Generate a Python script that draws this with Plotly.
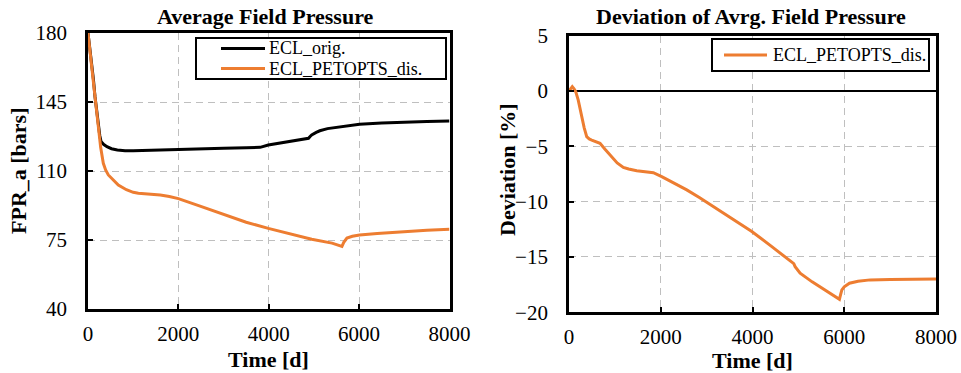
import plotly.graph_objects as go

# ---- data -------------------------------------------------------------
# Average field pressure, original ECLIPSE run [bars]
t_orig = [0, 40, 81, 120, 155, 190, 229, 260, 288, 350, 420, 520, 650, 820,
          1000, 1400, 2000, 2480, 3000, 3500, 3810, 3990, 4400, 4880, 4910,
          4950, 5050, 5130, 5300, 5580, 6010, 6500, 6900, 7500, 8000]
fpr_orig = [180, 172.5, 164.6, 156.5, 147.7, 140.0, 132.5, 128.0, 125.0,
            123.4, 122.3, 121.3, 120.7, 120.3, 120.3, 120.6, 121.0, 121.5,
            121.6, 121.8, 122.0, 123.2, 124.8, 126.6, 127.4, 128.3, 129.6,
            130.4, 131.5, 132.5, 133.7, 134.3, 134.7, 135.1, 135.4]

# Average field pressure, PETOPTS discretised run [bars]
t_dis = [0, 81, 155, 229, 280, 339, 390, 450, 550, 671, 850, 1000, 1114,
         1300, 1600, 1800, 2000, 2480, 3000, 3500, 3990, 4500, 4950, 5400,
         5620, 5660, 5730, 5850, 6010, 6400, 6910, 7500, 8000]
fpr_dis = [180, 164.6, 147.7, 132.5, 122.0, 113.9, 110.5, 108.0, 105.5,
           102.9, 100.5, 99.2, 98.7, 98.4, 97.8, 97.1, 96.0, 92.2, 88.0,
           84.0, 80.9, 78.1, 75.4, 73.4, 71.8, 73.8, 76.0, 76.9, 77.5, 78.3,
           79.2, 79.9, 80.4]

# Relative deviation of the PETOPTS run [%]
t_dev = [0, 40, 72, 110, 146, 200, 277, 330, 386, 440, 495, 580, 676, 785,
         900, 1050, 1185, 1300, 1476, 1700, 1839, 2021, 2300, 2567, 2850,
         3148, 3500, 3839, 3985, 4400, 4857, 4900, 4929, 5038, 5300, 5547,
         5750, 5895, 5920, 5948, 6000, 6114, 6300, 6565, 7000, 7500, 8000]
dev = [0, 0.25, 0.39, 0.2, -0.06, -0.8, -2.32, -3.3, -4.13, -4.33, -4.43,
       -4.58, -4.73, -5.27, -5.85, -6.5, -6.9, -7.05, -7.2, -7.3, -7.38,
       -7.74, -8.35, -8.94, -9.65, -10.45, -11.37, -12.26, -12.7, -14.0,
       -15.42, -15.6, -15.87, -16.47, -17.25, -17.91, -18.4, -18.82, -18.4,
       -17.98, -17.7, -17.37, -17.2, -17.07, -17.03, -17.01, -17.0]

x_ticks = [0, 2000, 4000, 6000, 8000]
fpr_ticks = [40, 75, 110, 145, 180]
dev_ticks = [-20, -15, -10, -5, 0, 5]

name_orig = "ECL_orig."
name_dis = "ECL_PETOPTS_dis."
title_left = "Average Field Pressure"
title_right = "Deviation of Avrg. Field Pressure"
xlabel = "Time [d]"
ylabel_left = "FPR_a [bars]"
ylabel_right = "Deviation [%]"

# ---- style ------------------------------------------------------------
W, H = 961, 373
FONT = "Liberation Serif"
ORANGE = "#ED7D31"
BLACK = "#000000"


def fx(p):
    """pixel column -> paper x"""
    return p / W


def fy(p):
    """pixel row (from top) -> paper y"""
    return 1 - p / H


fig = go.Figure()

fig.add_trace(go.Scatter(x=t_orig, y=fpr_orig, name=name_orig, mode="lines",
                         line=dict(color=BLACK, width=3),
                         xaxis="x", yaxis="y"))
fig.add_trace(go.Scatter(x=t_dis, y=fpr_dis, name=name_dis, mode="lines",
                         line=dict(color=ORANGE, width=3),
                         xaxis="x", yaxis="y"))
fig.add_trace(go.Scatter(x=t_dev, y=dev, name=name_dis, mode="lines",
                         line=dict(color=ORANGE, width=3),
                         xaxis="x2", yaxis="y2"))

axis_common = dict(
    showline=True, mirror=True, linecolor=BLACK, linewidth=2.8,
    ticks="inside", ticklen=5, tickwidth=2, tickcolor=BLACK,
    showgrid=True, gridcolor="#BFBFBF", gridwidth=1.3, griddash="7px,5px",
    tickfont=dict(family=FONT, size=21, color=BLACK),
    automargin=False, fixedrange=True,
)

fig.update_layout(
    width=W, height=H,
    margin=dict(l=0, r=0, t=0, b=0),
    paper_bgcolor="white", plot_bgcolor="white",
    showlegend=False,
    font=dict(family=FONT, color=BLACK),
    xaxis=dict(axis_common, domain=[fx(88), fx(449.5)], range=[0, 8000],
               tickvals=x_ticks, anchor="y", zeroline=False,
               ticklabelstandoff=4),
    yaxis=dict(axis_common, domain=[fy(309), fy(33)], range=[40, 180],
               tickvals=fpr_ticks, anchor="x", zeroline=False,
               ticklabelstandoff=14),
    xaxis2=dict(axis_common, domain=[fx(569), fx(936)], range=[0, 8000],
                tickvals=x_ticks, anchor="y2", zeroline=False,
                ticklabelstandoff=4),
    yaxis2=dict(axis_common, domain=[fy(312.3), fy(35.7)], range=[-20, 5],
                tickvals=dev_ticks, anchor="x2", zeroline=True,
                zerolinecolor=BLACK, zerolinewidth=1.5,
                ticklabelstandoff=14),
)

annotations = []
shapes = []


def text(x, y, s, size, bold=False, angle=0, xanchor="center"):
    annotations.append(dict(
        x=fx(x), y=fy(y), xref="paper", yref="paper", text=s, showarrow=False,
        xanchor=xanchor, yanchor="middle", textangle=angle,
        font=dict(family=FONT, size=size, color=BLACK,
                  weight="bold" if bold else "normal")))


# chart titles and axis titles
text(265, 16, title_left, 22, bold=True)
text(751, 16, title_right, 22, bold=True)
text(268, 359, xlabel, 22, bold=True)
text(752, 360, xlabel, 22, bold=True)
text(18, 171, ylabel_left, 22, bold=True, angle=-90)
text(507, 170, ylabel_right, 22, bold=True, angle=-90)


def legend_box(x0, y0, x1, y1, entries, line_x0, line_x1, text_x):
    shapes.append(dict(type="rect", xref="paper", yref="paper",
                       x0=fx(x0), x1=fx(x1), y0=fy(y1), y1=fy(y0),
                       line=dict(color=BLACK, width=2), fillcolor="white",
                       layer="above"))
    for label, color, yy in entries:
        shapes.append(dict(type="line", xref="paper", yref="paper",
                           x0=fx(line_x0), x1=fx(line_x1), y0=fy(yy), y1=fy(yy),
                           line=dict(color=color, width=3), layer="above"))
        text(text_x, yy, label, 18, xanchor="left")


legend_box(196, 38, 446, 79,
           [(name_orig, BLACK, 48.5), (name_dis, ORANGE, 68.5)],
           221, 265, 267)
legend_box(712, 39, 929, 71, [(name_dis, ORANGE, 55)], 724, 767, 771)

fig.update_layout(annotations=annotations, shapes=shapes)

fig.write_html("out.html")
